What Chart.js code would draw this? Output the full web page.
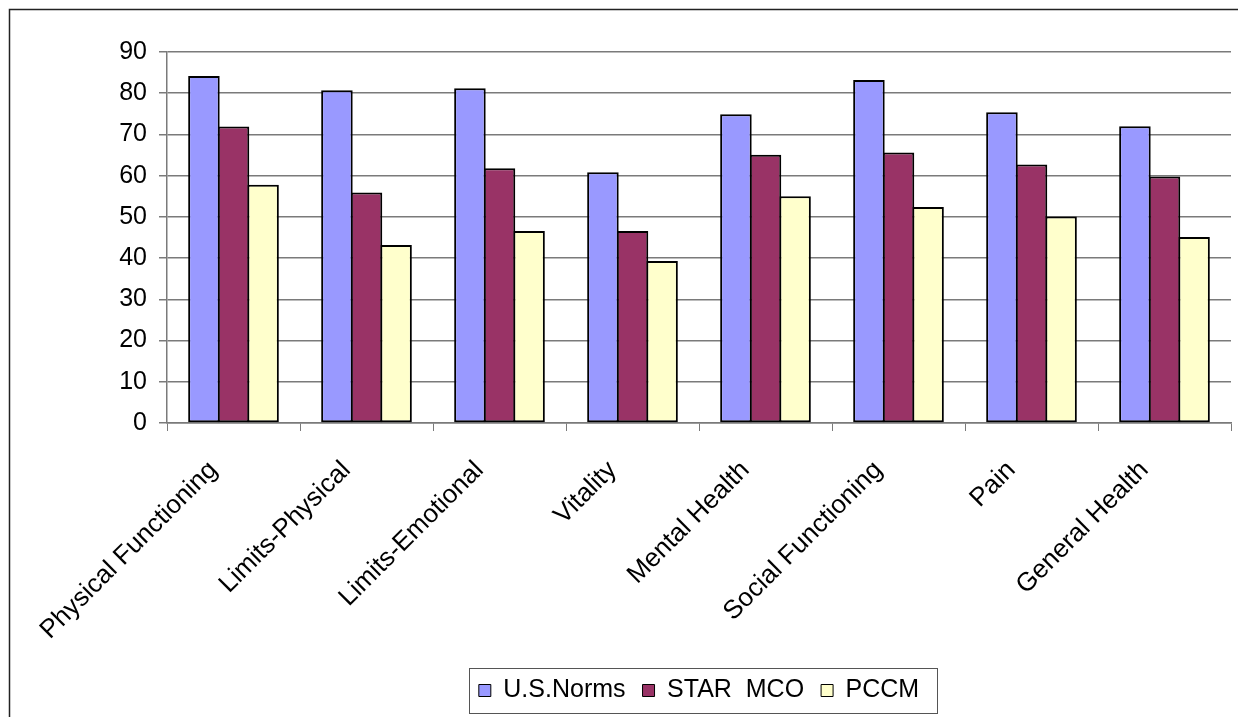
<!DOCTYPE html>
<html>
<head>
<meta charset="utf-8">
<script src="https://cdn.jsdelivr.net/npm/chart.js@4/dist/chart.umd.min.js"></script>
<style>
  html, body { margin: 0; padding: 0; background: #ffffff; overflow: hidden; }
  #wrap { position: relative; width: 1238px; height: 717px; }
  canvas { display: block; }
</style>
</head>
<body>
<div id="wrap"><canvas id="c" width="1238" height="717"></canvas></div>
<script>
// SF-36 scale scores by group
const categories = ['Physical Functioning', 'Limits-Physical', 'Limits-Emotional', 'Vitality',
                    'Mental Health', 'Social Functioning', 'Pain', 'General Health'];
const usNorms = [84.2, 80.7, 81.2, 60.8, 74.9, 83.2, 75.4, 72.0];
const starMco = [71.9, 55.9, 61.8, 46.6, 65.1, 65.6, 62.7, 59.8];
const pccm    = [57.8, 43.2, 46.6, 39.3, 55.0, 52.4, 50.1, 45.1];
const seriesNames = ['U.S.Norms', 'STAR  MCO', 'PCCM'];
const yTicks = [0, 10, 20, 30, 40, 50, 60, 70, 80, 90];

const FAMILY = '"Liberation Sans", Arial, sans-serif';
const FONT = { family: FAMILY, size: 25 };
const XFONT = { family: FAMILY, size: 26 };
const GRID = '#7a7a7a';

// Outer frame and a border around the legend
const framePlugin = {
  id: 'frames',
  afterDraw(chart) {
    const ctx = chart.ctx;
    ctx.save();
    ctx.strokeStyle = '#222';
    ctx.lineWidth = 1.5;
    ctx.strokeRect(9.5, 9.5, 1260, 740);
    const lg = chart.legend;
    if (lg && lg.legendHitBoxes && lg.legendHitBoxes.length) {
      const hb = lg.legendHitBoxes;
      const first = hb[0], last = hb[hb.length - 1];
      const x0 = Math.round(first.left - 10) + 0.5;
      const x1 = Math.round(last.left + last.width + 18) + 0.5;
      const y0 = Math.round(first.top - 10) + 0.5;
      const y1 = Math.round(first.top + first.height + 10) + 0.5;
      ctx.strokeStyle = '#555';
      ctx.lineWidth = 1;
      ctx.strokeRect(x0, y0, x1 - x0, y1 - y0);
    }
    ctx.restore();
  }
};

const mkSet = (label, data, color) => ({
  label, data,
  backgroundColor: color,
  borderColor: '#000000',
  borderWidth: 2,
  borderSkipped: false,
  barPercentage: 1.067,
  categoryPercentage: 0.667
});

new Chart(document.getElementById('c'), {
  type: 'bar',
  data: {
    labels: categories,
    datasets: [
      mkSet(seriesNames[0], usNorms, '#9999FF'),
      mkSet(seriesNames[1], starMco, '#993366'),
      mkSet(seriesNames[2], pccm, '#FFFFCC')
    ]
  },
  plugins: [framePlugin],
  options: {
    responsive: false,
    animation: false,
    devicePixelRatio: 1,
    layout: { padding: { top: 52, right: 7, bottom: 4, left: 0 } },
    plugins: {
      title: { display: false },
      tooltip: { enabled: false },
      legend: {
        position: 'bottom',
        fullSize: false,
        labels: {
          font: FONT,
          color: '#000',
          boxWidth: 12,
          boxHeight: 12,
          padding: 17,
          generateLabels(chart) {
            const items = Chart.defaults.plugins.legend.labels.generateLabels(chart);
            items.forEach(it => { it.lineWidth = 1; });
            return items;
          }
        }
      }
    },
    scales: {
      x: {
        offset: true,
        grid: {
          display: true,
          offset: true,
          drawOnChartArea: false,
          drawTicks: true,
          tickLength: 8,
          color: GRID
        },
        border: { display: true, color: GRID, width: 1.5 },
        ticks: {
          font: XFONT,
          color: '#000',
          maxRotation: 45,
          minRotation: 45,
          autoSkip: false,
          padding: 24,
          labelOffset: -20
        },
        afterFit(scale) { scale.height = 238; }
      },
      y: {
        min: 0,
        max: 90,
        afterBuildTicks(scale) { scale.ticks = yTicks.map(v => ({ value: v })); },
        grid: {
          color: GRID,
          lineWidth: 1.5,
          drawTicks: true,
          tickLength: 8
        },
        border: { display: true, color: GRID, width: 1.5 },
        ticks: {
          font: FONT,
          color: '#000',
          padding: 12
        },
        afterFit(scale) { scale.width = 167; }
      }
    }
  }
});
</script>
</body>
</html>
